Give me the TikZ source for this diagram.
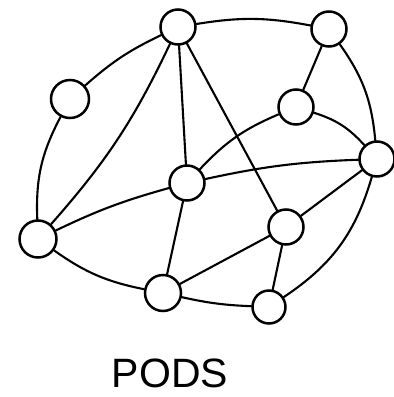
\documentclass[tikz,border=0pt]{standalone}
\usepackage{fontspec}
\setmainfont{Liberation Sans}
\usetikzlibrary{positioning}

\begin{document}
\begin{tikzpicture}[
  x=1pt, y=-1pt,
  pod/.style={draw, circle, line width=2.5pt, minimum size=35pt, inner sep=0pt, fill=white},
  link/.style={line width=2.1pt, line cap=round}
]
\useasboundingbox (0,0) rectangle (394,397);
% pods
\node[pod] (a) at (178,27) {};
\node[pod] (b) at (329,29) {};
\node[pod, minimum size=38pt] (c) at (70,99) {};
\node[pod] (d) at (296,107) {};
\node[pod] (e) at (377,159) {};
\node[pod] (f) at (187,183) {};
\node[pod, minimum size=37pt] (g) at (38,239) {};
\node[pod] (h) at (286,227) {};
\node[pod, minimum size=36pt] (i) at (163,293) {};
\node[pod, minimum size=33pt] (j) at (269,307) {};
% outer ring
\draw[link] (a) to[bend left=10] (b);
\draw[link] (a) to[bend right=8] (c);
\draw[link] (c) to[bend right=15] (g);
\draw[link] (g) to[bend right=12] (i);
\draw[link] (i) to[bend right=5] (j);
\draw[link] (j) to[bend right=20] (e);
\draw[link] (e) to[bend right=15] (b);
% inner links
\draw[link] (a) to[bend left=8] (g);
\draw[link] (a) -- (f);
\draw[link] (a) -- (h);
\draw[link] (b) -- (d);
\draw[link] (d) to[bend left=15] (e);
\draw[link] (d) to[bend right=12] (f);
\draw[link] (e) to[bend right=5] (f);
\draw[link] (e) -- (h);
\draw[link] (f) to[bend right=5] (g);
\draw[link] (f) -- (i);
\draw[link] (h) -- (i);
\draw[link] (h) -- (j);
\node (label) at (170,373) {\fontsize{41}{41}\selectfont PODS};
\end{tikzpicture}
\end{document}
